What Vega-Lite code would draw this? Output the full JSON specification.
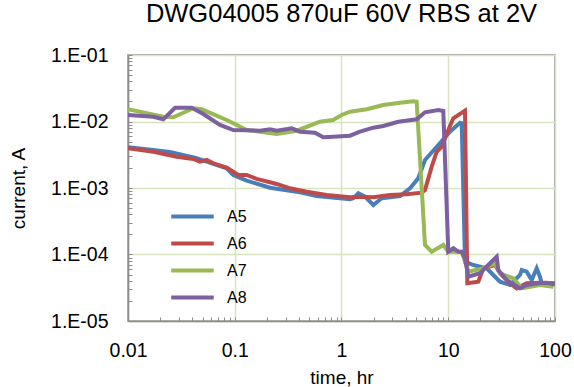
{
  "$schema": "https://vega.github.io/schema/vega-lite/v6.json",
  "width": 427,
  "height": 266,
  "autosize": {"type": "none"},
  "padding": {"left": 128, "top": 55, "right": 19, "bottom": 66},
  "background": "white",
  "title": {"text": "DWG04005 870uF 60V RBS at 2V", "fontSize": 25.5, "font": "Liberation Sans", "fontWeight": "normal", "color": "#000", "anchor": "middle", "baseline": "alphabetic", "offset": 6, "dy": 8},
  "config": {
    "view": {"stroke": "#8c8c8c", "strokeWidth": 1.5},
    "font": "Liberation Sans",
    "legend": {"orient": "none", "legendX": 54, "legendY": 151, "symbolType": "M-2.5,0H2.5", "symbolSize": 289, "symbolStrokeWidth": 4, "labelFontSize": 16, "labelOffset": 24, "rowPadding": 8, "padding": 0, "labelFont": "Liberation Sans", "labelColor": "#000", "symbolOpacity": 1}
  },
  "data": {"values": [
    {"s":"A5","t":0.01,"i":0.00409},{"s":"A5","t":0.01496,"i":0.00382},{"s":"A5","t":0.02473,"i":0.00348},{"s":"A5","t":0.04401,"i":0.0028},{"s":"A5","t":0.05461,"i":0.00249},{"s":"A5","t":0.0841,"i":0.00198},{"s":"A5","t":0.0969,"i":0.00157},{"s":"A5","t":0.1294,"i":0.00129},{"s":"A5","t":0.2139,"i":0.00101},{"s":"A5","t":0.4086,"i":0.000862},{"s":"A5","t":0.5857,"i":0.000758},{"s":"A5","t":1.2,"i":0.000676},{"s":"A5","t":1.29,"i":0.0007},{"s":"A5","t":1.437,"i":0.000832},{"s":"A5","t":1.66,"i":0.00074},{"s":"A5","t":1.986,"i":0.000555},{"s":"A5","t":2.38,"i":0.0007},{"s":"A5","t":3.532,"i":0.000758},{"s":"A5","t":4.383,"i":0.00099},{"s":"A5","t":5.241,"i":0.0014},{"s":"A5","t":6.056,"i":0.00264},{"s":"A5","t":8.07,"i":0.00443},{"s":"A5","t":10.38,"i":0.00703},{"s":"A5","t":12.89,"i":0.00959},{"s":"A5","t":13.37,"i":0.0094},{"s":"A5","t":14.35,"i":0.0000779},{"s":"A5","t":17.17,"i":0.0000695},{"s":"A5","t":22.92,"i":0.000062},{"s":"A5","t":26.42,"i":0.0000492},{"s":"A5","t":30.5,"i":0.000039},{"s":"A5","t":37.88,"i":0.0000348},{"s":"A5","t":47.0,"i":0.0000492},{"s":"A5","t":48.8,"i":0.0000585},{"s":"A5","t":54.3,"i":0.0000551},{"s":"A5","t":60.5,"i":0.0000413},{"s":"A5","t":67.4,"i":0.000062},{"s":"A5","t":72.3,"i":0.0000464},{"s":"A5","t":75.1,"i":0.0000369},{"s":"A5","t":96.4,"i":0.0000328},
    {"s":"A6","t":0.01,"i":0.00395},{"s":"A6","t":0.01726,"i":0.00351},{"s":"A6","t":0.0286,"i":0.00296},{"s":"A6","t":0.0409,"i":0.00273},{"s":"A6","t":0.04725,"i":0.00249},{"s":"A6","t":0.05461,"i":0.00264},{"s":"A6","t":0.063,"i":0.00235},{"s":"A6","t":0.0841,"i":0.00202},{"s":"A6","t":0.108,"i":0.00157},{"s":"A6","t":0.1294,"i":0.00157},{"s":"A6","t":0.1606,"i":0.00137},{"s":"A6","t":0.247,"i":0.00115},{"s":"A6","t":0.3294,"i":0.00099},{"s":"A6","t":0.472,"i":0.00088},{"s":"A6","t":0.727,"i":0.000785},{"s":"A6","t":1.2,"i":0.000725},{"s":"A6","t":1.49,"i":0.00074},{"s":"A6","t":1.986,"i":0.000725},{"s":"A6","t":2.847,"i":0.000785},{"s":"A6","t":4.082,"i":0.000804},{"s":"A6","t":5.64,"i":0.00085},{"s":"A6","t":6.056,"i":0.000933},{"s":"A6","t":6.998,"i":0.00209},{"s":"A6","t":7.796,"i":0.00351},{"s":"A6","t":8.681,"i":0.00418},{"s":"A6","t":10.01,"i":0.00745},{"s":"A6","t":11.15,"i":0.01117},{"s":"A6","t":14.35,"i":0.01454},{"s":"A6","t":15.09,"i":0.0000369},{"s":"A6","t":19.12,"i":0.000039},{"s":"A6","t":21.3,"i":0.000062},{"s":"A6","t":27.4,"i":0.0000695},{"s":"A6","t":30.5,"i":0.0000522},{"s":"A6","t":37.88,"i":0.0000369},{"s":"A6","t":43.77,"i":0.000031},{"s":"A6","t":54.3,"i":0.0000369},{"s":"A6","t":72.3,"i":0.0000377},{"s":"A6","t":100,"i":0.0000369},
    {"s":"A7","t":0.01,"i":0.01526},{"s":"A7","t":0.0214,"i":0.01181},{"s":"A7","t":0.02657,"i":0.01157},{"s":"A7","t":0.0409,"i":0.0158},{"s":"A7","t":0.049,"i":0.01526},{"s":"A7","t":0.0841,"i":0.01053},{"s":"A7","t":0.1043,"i":0.00886},{"s":"A7","t":0.1294,"i":0.00745},{"s":"A7","t":0.247,"i":0.00649},{"s":"A7","t":0.3804,"i":0.00727},{"s":"A7","t":0.629,"i":0.00993},{"s":"A7","t":0.8326,"i":0.01053},{"s":"A7","t":1.004,"i":0.01252},{"s":"A7","t":1.2,"i":0.01404},{"s":"A7","t":1.722,"i":0.01526},{"s":"A7","t":2.464,"i":0.0177},{"s":"A7","t":3.532,"i":0.01917},{"s":"A7","t":4.705,"i":0.02013},{"s":"A7","t":5.063,"i":0.01985},{"s":"A7","t":6.056,"i":0.000139},{"s":"A7","t":6.998,"i":0.00011},{"s":"A7","t":8.986,"i":0.000139},{"s":"A7","t":10.01,"i":0.00011},{"s":"A7","t":13.37,"i":0.00011},{"s":"A7","t":15.41,"i":0.0000551},{"s":"A7","t":21.3,"i":0.000062},{"s":"A7","t":27.4,"i":0.0000737},{"s":"A7","t":30.5,"i":0.0000522},{"s":"A7","t":40.7,"i":0.0000439},{"s":"A7","t":48.8,"i":0.000031},{"s":"A7","t":72.3,"i":0.0000348},{"s":"A7","t":96.4,"i":0.0000328},
    {"s":"A8","t":0.01,"i":0.01252},{"s":"A8","t":0.01726,"i":0.01181},{"s":"A8","t":0.0214,"i":0.01079},{"s":"A8","t":0.02756,"i":0.01612},{"s":"A8","t":0.03952,"i":0.01612},{"s":"A8","t":0.05074,"i":0.01297},{"s":"A8","t":0.0727,"i":0.00886},{"s":"A8","t":0.0969,"i":0.00745},{"s":"A8","t":0.1724,"i":0.00727},{"s":"A8","t":0.2139,"i":0.00763},{"s":"A8","t":0.247,"i":0.00727},{"s":"A8","t":0.3416,"i":0.0079},{"s":"A8","t":0.4086,"i":0.00703},{"s":"A8","t":0.5647,"i":0.00679},{"s":"A8","t":0.6753,"i":0.00579},{"s":"A8","t":0.838,"i":0.0059},{"s":"A8","t":1.2,"i":0.00612},{"s":"A8","t":1.49,"i":0.00703},{"s":"A8","t":1.986,"i":0.00807},{"s":"A8","t":2.464,"i":0.00856},{"s":"A8","t":3.405,"i":0.00993},{"s":"A8","t":5.063,"i":0.01079},{"s":"A8","t":6.056,"i":0.01375},{"s":"A8","t":8.07,"i":0.01489},{"s":"A8","t":8.986,"i":0.01438},{"s":"A8","t":10.01,"i":0.00011},{"s":"A8","t":11.15,"i":0.000124},{"s":"A8","t":12.42,"i":0.00011},{"s":"A8","t":13.37,"i":0.00011},{"s":"A8","t":14.35,"i":0.0000877},{"s":"A8","t":15.41,"i":0.0000464},{"s":"A8","t":19.83,"i":0.0000522},{"s":"A8","t":23.72,"i":0.0000695},{"s":"A8","t":28.44,"i":0.0000927},{"s":"A8","t":29.44,"i":0.0000585},{"s":"A8","t":35.27,"i":0.0000413},{"s":"A8","t":47.0,"i":0.000031},{"s":"A8","t":54.3,"i":0.0000348},{"s":"A8","t":69.8,"i":0.0000369},{"s":"A8","t":83.6,"i":0.0000377},{"s":"A8","t":100,"i":0.0000356}
  ]},
  "mark": {"type": "line", "strokeWidth": 4, "clip": true},
  "encoding": {
    "x": {
      "field": "t", "type": "quantitative",
      "scale": {"type": "log", "domain": [0.01, 100], "nice": false},
      "axis": {
        "values": [0.01,0.02,0.03,0.04,0.05,0.06,0.07,0.08,0.09,0.1,0.2,0.3,0.4,0.5,0.6,0.7,0.8,0.9,1,2,3,4,5,6,7,8,9,10,20,30,40,50,60,70,80,90,100],
        "labelExpr": "abs(log(datum.value)/LN10 - round(log(datum.value)/LN10)) < 0.01 ? (datum.value < 0.05 ? '0.01' : datum.value < 0.5 ? '0.1' : datum.value < 5 ? '1' : datum.value < 50 ? '10' : '100') : ''",
        "tickSize": -4, "tickColor": "#8c8c8c", "tickWidth": 1,
        "domainColor": "#8c8c8c", "domainWidth": 1.5,
        "labelPadding": 24, "labelFontSize": 19.5, "labelColor": "#000", "labelFlush": false, "labelOverlap": false,
        "grid": true, "gridColor": "#d7e4bd", "gridWidth": 1.5,
        "gridOpacity": {"condition": {"test": "abs(log(datum.value)/LN10 - round(log(datum.value)/LN10)) < 0.01", "value": 1}, "value": 0},
        "title": "time, hr", "titleFontSize": 19, "titleFontWeight": "normal", "titleColor": "#000", "titleY": 62, "titleBaseline": "alphabetic"
      }
    },
    "y": {
      "field": "i", "type": "quantitative",
      "scale": {"type": "log", "domain": [0.00001, 0.1], "nice": false},
      "axis": {
        "values": [0.00001,0.00002,0.00003,0.00004,0.00005,0.00006,0.00007,0.00008,0.00009,0.0001,0.0002,0.0003,0.0004,0.0005,0.0006,0.0007,0.0008,0.0009,0.001,0.002,0.003,0.004,0.005,0.006,0.007,0.008,0.009,0.01,0.02,0.03,0.04,0.05,0.06,0.07,0.08,0.09,0.1],
        "labelExpr": "abs(log(datum.value)/LN10 - round(log(datum.value)/LN10)) < 0.01 ? '1.E-0' + round(-log(datum.value)/LN10) : ''",
        "tickSize": -4, "tickColor": "#8c8c8c", "tickWidth": 1,
        "domainColor": "#8c8c8c", "domainWidth": 1.5,
        "labelPadding": 24, "labelFontSize": 19.5, "labelColor": "#000", "labelFlush": false, "labelOverlap": false,
        "grid": true, "gridColor": "#d7e4bd", "gridWidth": 1.5,
        "gridOpacity": {"condition": {"test": "abs(log(datum.value)/LN10 - round(log(datum.value)/LN10)) < 0.01", "value": 1}, "value": 0},
        "title": "current, A", "titleFontSize": 19, "titleFontWeight": "normal", "titleColor": "#000", "titleX": -110, "titleBaseline": "middle"
      }
    },
    "color": {
      "field": "s", "type": "nominal",
      "scale": {"domain": ["A5","A6","A7","A8"], "range": ["#4a7ebb","#be4b48","#98b954","#7d60a0"]},
      "legend": {"title": null}
    }
  }
}
